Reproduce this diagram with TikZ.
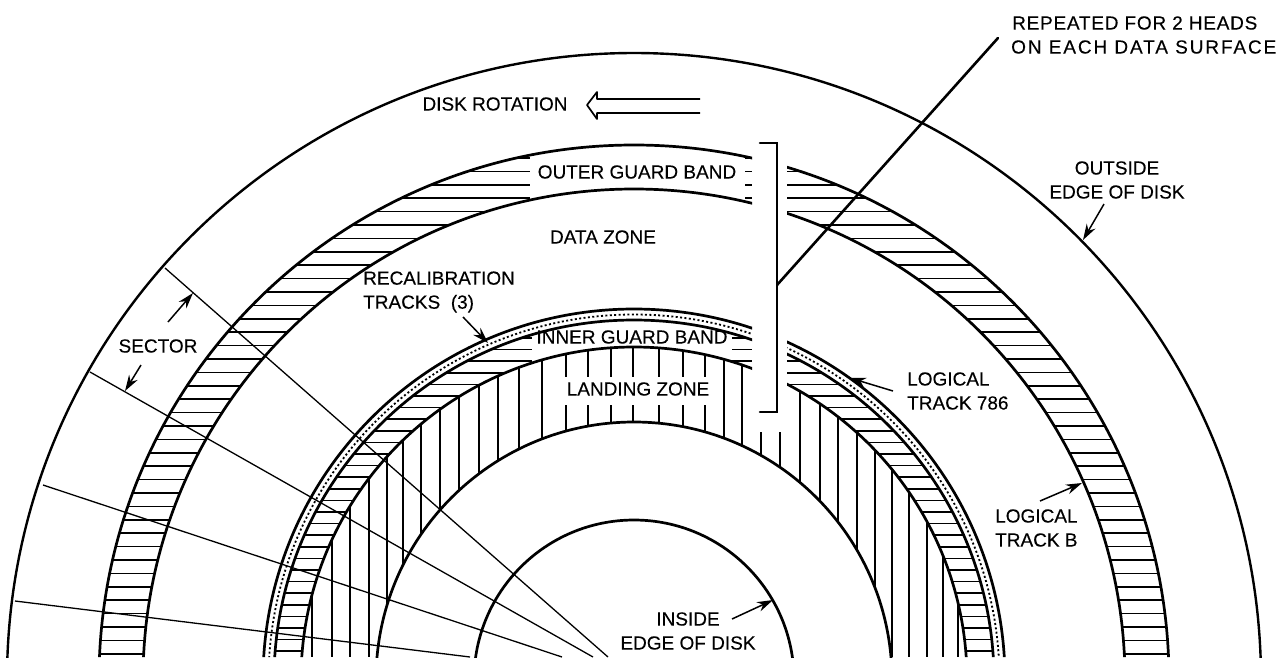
\documentclass[tikz,border=0pt]{standalone}
\usepackage{fontspec}
\usepackage{xcolor}
\setmainfont[FakeBold=0.2]{Liberation Sans}
\usetikzlibrary{arrows.meta}

\begin{document}
\begin{tikzpicture}[
      x=1pt, y=-1pt,
      font=\fontsize{19}{24}\selectfont,
      lbl/.style={inner sep=0pt, align=center},
      lblleft/.style={inner sep=0pt, align=left, anchor=west},
      edge/.style={line width=2.4pt},
      band/.style={line width=2.7pt},
      hatch/.style={line width=1.6pt},
      radial/.style={line width=1.3pt},
      heavy/.style={line width=2.6pt, line cap=round},
      arr/.style={-{Stealth[length=16pt, width=10pt]}, line width=1.5pt},
    ]

    \useasboundingbox (0,0) rectangle (1286,657);
    \coordinate (hub) at (634,680);

    % horizontal hatching of the two bands
    \begin{scope}[even odd rule]
      \clip (hub) circle[radius=535] (hub) circle[radius=491];
      \foreach \k in {0,...,37} {
        \pgfmathsetmacro{\hy}{158+13.4*\k}
        \draw[hatch] (0,\hy) -- (530,\hy);
        \draw[hatch] (745,\hy) -- (752,\hy);
        \draw[hatch] (787,\hy) -- (1286,\hy);
      }
    \end{scope}
    \begin{scope}[even odd rule]
      \clip (hub) circle[radius=360] (hub) circle[radius=333];
      \foreach \k in {0,...,27} {
        \pgfmathsetmacro{\hy}{338+11.6*\k}
        \draw[hatch] (0,\hy) -- (532,\hy);
        \draw[hatch] (732,\hy) -- (752,\hy);
        \draw[hatch] (787,\hy) -- (1286,\hy);
      }
    \end{scope}

    % vertical hatching of the landing zone
    \begin{scope}[even odd rule]
      \clip (hub) circle[radius=333] (hub) circle[radius=258];
      \foreach \vx in {312,332,350,369,387,403,421,440,459,479,498,519,542,724,742,800,820,838,857,875,892,909,927,943,958}
        \draw[hatch] (\vx,300) -- (\vx,657);
      \foreach \vx in {566,588,611,633,659,683,705} {
        \draw[hatch] (\vx,300) -- (\vx,377);
        \draw[hatch] (\vx,405) -- (\vx,657);
      }
      \foreach \vx in {761,780}
        \draw[hatch] (\vx,432) -- (\vx,657);
    \end{scope}

    % circles, open under the bracket
    \draw[band] (hub) circle[radius=160];
    \draw[band] (hub) circle[radius=258];
    \draw[edge] (hub) circle[radius=627];
    \begin{scope}
      \clip (0,0) rectangle (752,657) (787,0) rectangle (1286,657);
      \draw[band] (hub) circle[radius=535];
      \draw[band] (hub) circle[radius=491];
      \draw[band] (hub) circle[radius=371];
      \draw[band] (hub) circle[radius=360];
      \draw[band] (hub) circle[radius=333];
      \draw[line width=1.8pt, dash pattern=on 2pt off 2.4pt] (hub) circle[radius=365.5];
    \end{scope}

    % sector lines
    \coordinate (seca) at (165,268);
    \coordinate (secb) at (90,372);
    \coordinate (secc) at (43,485);
    \coordinate (secd) at (15,601);
    \coordinate (cira) at (608,657);
    \coordinate (cirb) at (593,657);
    \coordinate (circ) at (562,657);
    \coordinate (cird) at (470,657);
    \draw[radial] (seca) -- (cira);
    \draw[radial] (secb) -- (cirb);
    \draw[radial] (secc) -- (circ);
    \draw[radial] (secd) -- (cird);

    % bracket and its leader
    \coordinate (brktop) at (760,143);
    \coordinate (brkbot) at (760,412);
    \coordinate (brkjoin) at (777,285);
    \coordinate (heads) at (998,38);
    \draw[heavy] (brktop) -- (777,143) -- (777,412) -- (brkbot);
    \draw[heavy] (brkjoin) -- (heads);

    % rotation arrow
    \draw[line width=1.7pt, line join=round] (700,99) -- (597,99) -- (597,92) -- (587,105)
      -- (597,119) -- (597,113) -- (700,113);

    \node[lbl] (rotation) at (495,104) {DISK ROTATION};
    \node[lbl] (outerband) at (637,172) {OUTER GUARD BAND};
    \node[lbl] (datazone) at (603,237) {DATA ZONE};
    \node[lblleft] (recal) at (363,292) {RECALIBRATION\\TRACKS\ \ (3)};
    \node[lbl] (innerband) at (632,337) {INNER GUARD BAND};
    \node[lbl] (landing) at (638,389) {LANDING ZONE};
    \node[lbl] (sector) at (158,346) {SECTOR};
    \node[lbl] (outside) at (1117,180) {OUTSIDE\\EDGE OF DISK};
    \node[lblleft] (track786) at (907,391) {LOGICAL\\TRACK 786};
    \node[lblleft] (trackb) at (995,528) {LOGICAL\\TRACK B};
    \node[lbl] (inside) at (688,631) {INSIDE\\EDGE OF DISK};
    \node[lblleft] (repa) at (1012,23) {\addfontfeature{LetterSpace=4}REPEATED FOR 2 HEADS};
    \node[lblleft] (repb) at (1011,47) {\addfontfeature{LetterSpace=10}ON EACH DATA SURFACE};

    \coordinate (recalfrom) at (463,317);
    \coordinate (recalto) at (488,343);
    \coordinate (secupfrom) at (168,322);
    \coordinate (secupto) at (193,293);
    \coordinate (secdnfrom) at (141,365);
    \coordinate (secdnto) at (125,391);
    \coordinate (outfrom) at (1104,204);
    \coordinate (outto) at (1083,240);
    \coordinate (t786from) at (893,391);
    \coordinate (t786to) at (850,378);
    \coordinate (tbfrom) at (1040,501);
    \coordinate (tbto) at (1082,483);
    \coordinate (insfrom) at (732,619);
    \coordinate (insto) at (773,600);
    \draw[arr] (recalfrom) -- (recalto);
    \draw[arr] (secupfrom) -- (secupto);
    \draw[arr] (secdnfrom) -- (secdnto);
    \draw[arr] (outfrom) -- (outto);
    \draw[arr] (t786from) -- (t786to);
    \draw[arr] (tbfrom) -- (tbto);
    \draw[arr] (insfrom) -- (insto);

  \end{tikzpicture}
\end{document}
